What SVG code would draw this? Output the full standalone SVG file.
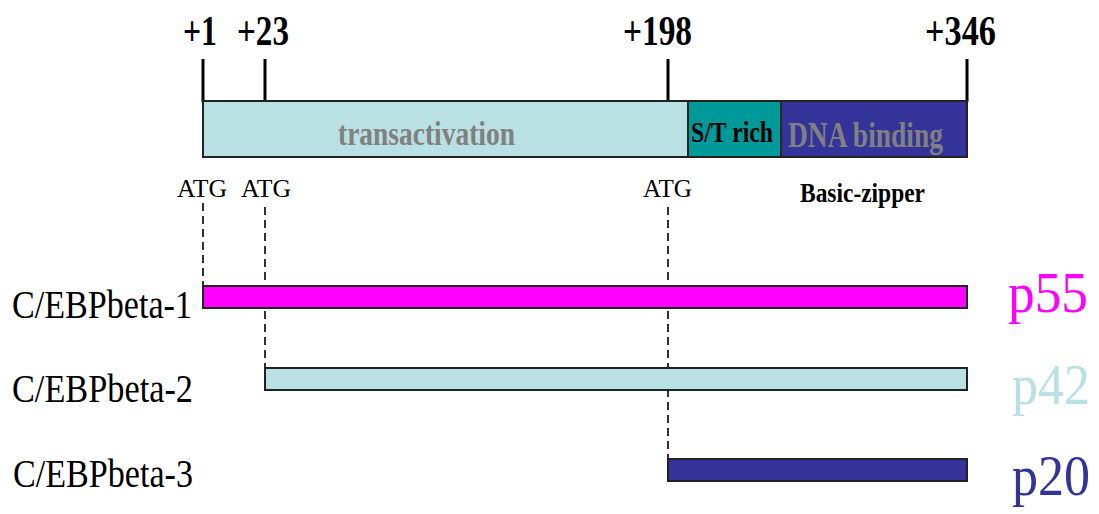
<svg xmlns="http://www.w3.org/2000/svg" width="1099" height="514" viewBox="0 0 1099 514">
<style>
.pos{font-family:"Liberation Serif",serif;font-weight:bold;font-size:42px;fill:#000}
.atg{font-family:"Liberation Serif",serif;font-size:26px;fill:#000}
.name{font-family:"Liberation Serif",serif;font-size:39px;fill:#000}
.iso{font-family:"Liberation Serif",serif;font-size:58px}
.dom{font-family:"Liberation Serif",serif;font-weight:bold}
.tick{stroke:#000;stroke-width:3}
.dash{stroke:#000;stroke-width:1.6;stroke-dasharray:8 5;fill:none}
.box{stroke:#222;stroke-width:2}
</style>
<rect width="1099" height="514" fill="#fff"/>
<g id="positions">
<text class="pos" x="183" y="45" textLength="34" lengthAdjust="spacingAndGlyphs">+1</text>
<text class="pos" x="237" y="45" textLength="52" lengthAdjust="spacingAndGlyphs">+23</text>
<text class="pos" x="623" y="45" textLength="69" lengthAdjust="spacingAndGlyphs">+198</text>
<text class="pos" x="925" y="45" textLength="71" lengthAdjust="spacingAndGlyphs">+346</text>
<line class="tick" x1="203" y1="59" x2="203" y2="102"/>
<line class="tick" x1="265" y1="59" x2="265" y2="102"/>
<line class="tick" x1="668" y1="59" x2="668" y2="102"/>
<line class="tick" x1="967" y1="59" x2="967" y2="102"/>
</g>
<g id="protein">
<rect id="transactivation" class="box" x="203" y="101" width="485" height="56" fill="#b9e0e3"/>
<rect id="st-rich" class="box" x="688" y="101" width="93" height="56" fill="#009999"/>
<rect id="dna-binding" class="box" x="781" y="101" width="186" height="56" fill="#333399"/>
<text class="dom" x="338" y="145" font-size="33" fill="#808080" textLength="177" lengthAdjust="spacingAndGlyphs">transactivation</text>
<text class="dom" x="691" y="142" font-size="29" fill="#000" textLength="82" lengthAdjust="spacingAndGlyphs">S/T rich</text>
<text class="dom" x="788" y="147" font-size="35" fill="#808080" textLength="155" lengthAdjust="spacingAndGlyphs">DNA binding</text>
</g>
<g id="atg-labels">
<text class="atg" x="177" y="197" textLength="50" lengthAdjust="spacingAndGlyphs">ATG</text>
<text class="atg" x="241" y="197" textLength="50" lengthAdjust="spacingAndGlyphs">ATG</text>
<text class="atg" x="643" y="197" textLength="49" lengthAdjust="spacingAndGlyphs">ATG</text>
<text class="dom" x="800" y="202" font-size="27" fill="#000" textLength="125" lengthAdjust="spacingAndGlyphs">Basic-zipper</text>
</g>
<g id="connectors">
<line class="dash" x1="203" y1="203" x2="203" y2="286"/>
<line class="dash" x1="265" y1="207" x2="265" y2="368"/>
<line class="dash" x1="668" y1="207" x2="668" y2="459"/>
</g>
<g id="isoform1">
<text class="name" x="12" y="318" textLength="180" lengthAdjust="spacingAndGlyphs">C/EBPbeta-1</text>
<rect class="box" x="203" y="286" width="764" height="22" fill="#ff00ff"/>
<text class="iso" x="1008" y="312" fill="#ff00ff" textLength="80" lengthAdjust="spacingAndGlyphs">p55</text>
</g>
<g id="isoform2">
<text class="name" x="12" y="402" textLength="181" lengthAdjust="spacingAndGlyphs">C/EBPbeta-2</text>
<rect class="box" x="265" y="368" width="702" height="22" fill="#b9e0e3"/>
<text class="iso" x="1012" y="404" fill="#b9e0e3" textLength="78" lengthAdjust="spacingAndGlyphs">p42</text>
</g>
<g id="isoform3">
<text class="name" x="13" y="487" textLength="180" lengthAdjust="spacingAndGlyphs">C/EBPbeta-3</text>
<rect class="box" x="668" y="459" width="299" height="22" fill="#333399"/>
<text class="iso" x="1012" y="495" fill="#333399" textLength="78" lengthAdjust="spacingAndGlyphs">p20</text>
</g>
</svg>
